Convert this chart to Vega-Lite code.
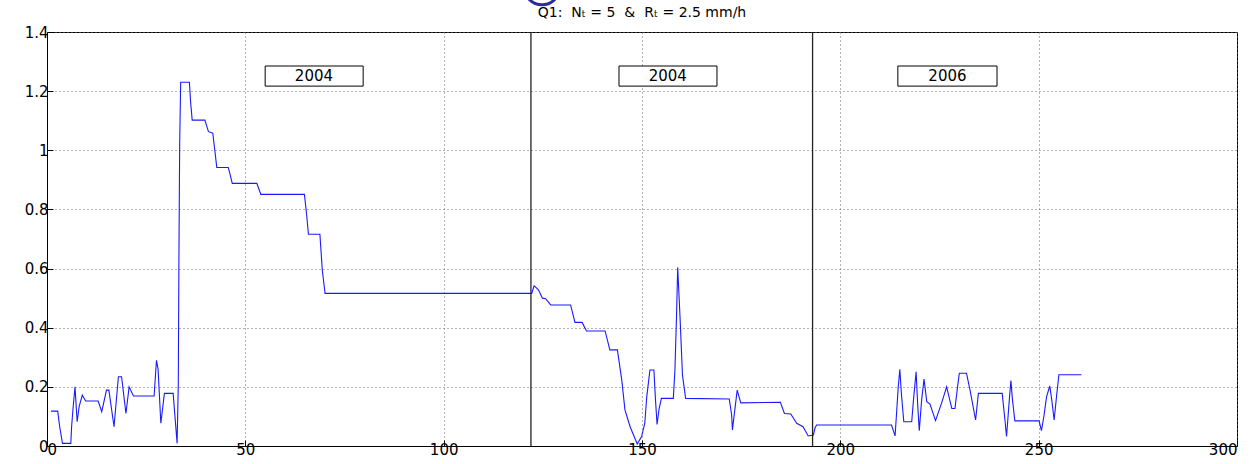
{
  "$schema": "https://vega.github.io/schema/vega-lite/v6.json",
  "width": 1190,
  "height": 414,
  "autosize": {"type": "none"},
  "padding": {"left": 47, "top": 32, "right": 23, "bottom": 18},
  "background": "white",
  "title": {"text": "Q1:\u00a0 Nₜ = 5 \u00a0&\u00a0 Rₜ = 2.5 mm/h", "font": "DejaVu Sans", "fontSize": 14, "fontWeight": "normal", "color": "black", "anchor": "middle", "baseline": "bottom", "offset": 13, "dy": 84},
  "config": {
    "view": {"stroke": "black", "strokeWidth": 1},
    "axis": {"domainColor": "black", "tickColor": "black", "labelColor": "black", "gridColor": "#666", "gridDash": [1, 3], "gridWidth": 1, "gridOpacity": 1, "labelFont": "DejaVu Sans", "labelFontSize": 15, "title": null, "tickSize": -6}
  },
  "datasets": {
    "series": [
      {"x": 1, "y": 0.118}, {"x": 2.7, "y": 0.118}, {"x": 3.2, "y": 0.065}, {"x": 3.9, "y": 0.009}, {"x": 6.0, "y": 0.009}, {"x": 6.2, "y": 0.065}, {"x": 6.6, "y": 0.133}, {"x": 7.06, "y": 0.2}, {"x": 7.6, "y": 0.082}, {"x": 8.1, "y": 0.133}, {"x": 8.9, "y": 0.172}, {"x": 9.75, "y": 0.152}, {"x": 12.9, "y": 0.152}, {"x": 13.8, "y": 0.116}, {"x": 15.0, "y": 0.189}, {"x": 15.6, "y": 0.189}, {"x": 16.9, "y": 0.065}, {"x": 18.0, "y": 0.234}, {"x": 18.8, "y": 0.234}, {"x": 19.9, "y": 0.11}, {"x": 20.7, "y": 0.2}, {"x": 21.8, "y": 0.169}, {"x": 27.0, "y": 0.169}, {"x": 27.6, "y": 0.29}, {"x": 28.0, "y": 0.26}, {"x": 28.7, "y": 0.077}, {"x": 29.6, "y": 0.178}, {"x": 31.8, "y": 0.178}, {"x": 32.8, "y": 0.009}, {"x": 33.1, "y": 0.21}, {"x": 33.25, "y": 0.618}, {"x": 33.45, "y": 1.025}, {"x": 33.7, "y": 1.23}, {"x": 35.9, "y": 1.23}, {"x": 36.2, "y": 1.164}, {"x": 36.6, "y": 1.102}, {"x": 39.8, "y": 1.102}, {"x": 40.7, "y": 1.063}, {"x": 41.8, "y": 1.058}, {"x": 42.2, "y": 1.012}, {"x": 42.8, "y": 0.942}, {"x": 45.7, "y": 0.942}, {"x": 46.2, "y": 0.916}, {"x": 46.7, "y": 0.888}, {"x": 52.9, "y": 0.888}, {"x": 53.9, "y": 0.851}, {"x": 64.9, "y": 0.851}, {"x": 65.5, "y": 0.776}, {"x": 65.9, "y": 0.716}, {"x": 68.8, "y": 0.716}, {"x": 69.4, "y": 0.595}, {"x": 70.1, "y": 0.516}, {"x": 122.2, "y": 0.516}, {"x": 122.8, "y": 0.542}, {"x": 123.9, "y": 0.528}, {"x": 124.9, "y": 0.5}, {"x": 125.7, "y": 0.498}, {"x": 127.0, "y": 0.477}, {"x": 132.0, "y": 0.477}, {"x": 133.1, "y": 0.418}, {"x": 134.9, "y": 0.418}, {"x": 136.0, "y": 0.389}, {"x": 140.7, "y": 0.389}, {"x": 141.9, "y": 0.325}, {"x": 143.8, "y": 0.325}, {"x": 144.9, "y": 0.223}, {"x": 145.7, "y": 0.122}, {"x": 147.0, "y": 0.065}, {"x": 148.8, "y": 0.007}, {"x": 149.9, "y": 0.032}, {"x": 150.7, "y": 0.077}, {"x": 151.2, "y": 0.167}, {"x": 152.0, "y": 0.257}, {"x": 153.0, "y": 0.257}, {"x": 153.4, "y": 0.156}, {"x": 153.8, "y": 0.073}, {"x": 154.3, "y": 0.125}, {"x": 154.9, "y": 0.161}, {"x": 157.9, "y": 0.161}, {"x": 158.3, "y": 0.257}, {"x": 158.7, "y": 0.437}, {"x": 159.0, "y": 0.604}, {"x": 159.6, "y": 0.432}, {"x": 160.2, "y": 0.24}, {"x": 161.0, "y": 0.161}, {"x": 172.0, "y": 0.159}, {"x": 172.6, "y": 0.105}, {"x": 172.8, "y": 0.054}, {"x": 173.4, "y": 0.122}, {"x": 174.0, "y": 0.189}, {"x": 174.9, "y": 0.146}, {"x": 184.9, "y": 0.148}, {"x": 185.9, "y": 0.11}, {"x": 187.5, "y": 0.108}, {"x": 189.0, "y": 0.077}, {"x": 190.6, "y": 0.065}, {"x": 191.9, "y": 0.034}, {"x": 193.2, "y": 0.037}, {"x": 193.6, "y": 0.06}, {"x": 194.0, "y": 0.071}, {"x": 212.9, "y": 0.071}, {"x": 213.8, "y": 0.034}, {"x": 214.2, "y": 0.116}, {"x": 214.6, "y": 0.2}, {"x": 215.0, "y": 0.259}, {"x": 215.4, "y": 0.176}, {"x": 216.0, "y": 0.082}, {"x": 218.0, "y": 0.082}, {"x": 218.4, "y": 0.15}, {"x": 219.1, "y": 0.251}, {"x": 219.5, "y": 0.14}, {"x": 219.9, "y": 0.052}, {"x": 220.5, "y": 0.156}, {"x": 221.1, "y": 0.226}, {"x": 221.8, "y": 0.15}, {"x": 222.6, "y": 0.142}, {"x": 224.0, "y": 0.086}, {"x": 225.5, "y": 0.144}, {"x": 226.8, "y": 0.2}, {"x": 227.4, "y": 0.166}, {"x": 228.1, "y": 0.127}, {"x": 228.9, "y": 0.127}, {"x": 229.5, "y": 0.195}, {"x": 230.0, "y": 0.246}, {"x": 231.8, "y": 0.246}, {"x": 232.7, "y": 0.189}, {"x": 234.1, "y": 0.088}, {"x": 234.8, "y": 0.178}, {"x": 240.8, "y": 0.178}, {"x": 241.5, "y": 0.088}, {"x": 241.9, "y": 0.032}, {"x": 242.6, "y": 0.156}, {"x": 243.0, "y": 0.221}, {"x": 243.4, "y": 0.156}, {"x": 244.0, "y": 0.085}, {"x": 250.1, "y": 0.085}, {"x": 250.7, "y": 0.052}, {"x": 251.3, "y": 0.099}, {"x": 252.0, "y": 0.167}, {"x": 252.8, "y": 0.203}, {"x": 253.3, "y": 0.156}, {"x": 253.9, "y": 0.088}, {"x": 254.5, "y": 0.167}, {"x": 255.1, "y": 0.241}, {"x": 260.8, "y": 0.241}
    ],
    "dividers": [{"x": 122}, {"x": 193}],
    "labels": [
      {"x1": 55.0, "x2": 79.7, "y1": 1.217, "y2": 1.285, "xc": 67.3, "yc": 1.251, "label": "2004"},
      {"x1": 144.2, "x2": 168.9, "y1": 1.217, "y2": 1.285, "xc": 156.5, "yc": 1.251, "label": "2004"},
      {"x1": 214.5, "x2": 239.5, "y1": 1.217, "y2": 1.285, "xc": 227.0, "yc": 1.251, "label": "2006"}
    ],
    "marker": [{"x": 124.8, "y": 1.552}]
  },
  "layer": [
    {
      "data": {"name": "series"},
      "mark": {"type": "line", "color": "#1a1aff", "strokeWidth": 1.1, "clip": true},
      "encoding": {
        "x": {"field": "x", "type": "quantitative", "scale": {"domain": [0, 300], "nice": false, "zero": false}, "axis": {"values": [0, 50, 100, 150, 200, 250, 300], "grid": true, "labelPadding": 2}},
        "y": {"field": "y", "type": "quantitative", "scale": {"domain": [0, 1.4], "nice": false}, "axis": {"values": [0, 0.2, 0.4, 0.6, 0.8, 1, 1.2, 1.4], "format": "~g", "grid": true, "labelPadding": 5}}
      }
    },
    {
      "data": {"name": "dividers"},
      "mark": {"type": "rule", "color": "#222", "strokeWidth": 1.3},
      "encoding": {"x": {"field": "x", "type": "quantitative"}}
    },
    {
      "data": {"name": "labels"},
      "mark": {"type": "rect", "fill": "white", "stroke": "black", "strokeWidth": 1},
      "encoding": {
        "x": {"field": "x1", "type": "quantitative"},
        "x2": {"field": "x2"},
        "y": {"field": "y1", "type": "quantitative"},
        "y2": {"field": "y2"}
      }
    },
    {
      "data": {"name": "labels"},
      "mark": {"type": "text", "font": "DejaVu Sans", "fontSize": 15, "color": "black", "baseline": "middle", "align": "center"},
      "encoding": {
        "x": {"field": "xc", "type": "quantitative"},
        "y": {"field": "yc", "type": "quantitative"},
        "text": {"field": "label"}
      }
    },
    {
      "data": {"name": "marker"},
      "mark": {"type": "point", "shape": "circle", "size": 1257, "filled": false, "stroke": "#2b2b9a", "strokeWidth": 3, "opacity": 1, "clip": false},
      "encoding": {
        "x": {"field": "x", "type": "quantitative"},
        "y": {"field": "y", "type": "quantitative"}
      }
    }
  ]
}
